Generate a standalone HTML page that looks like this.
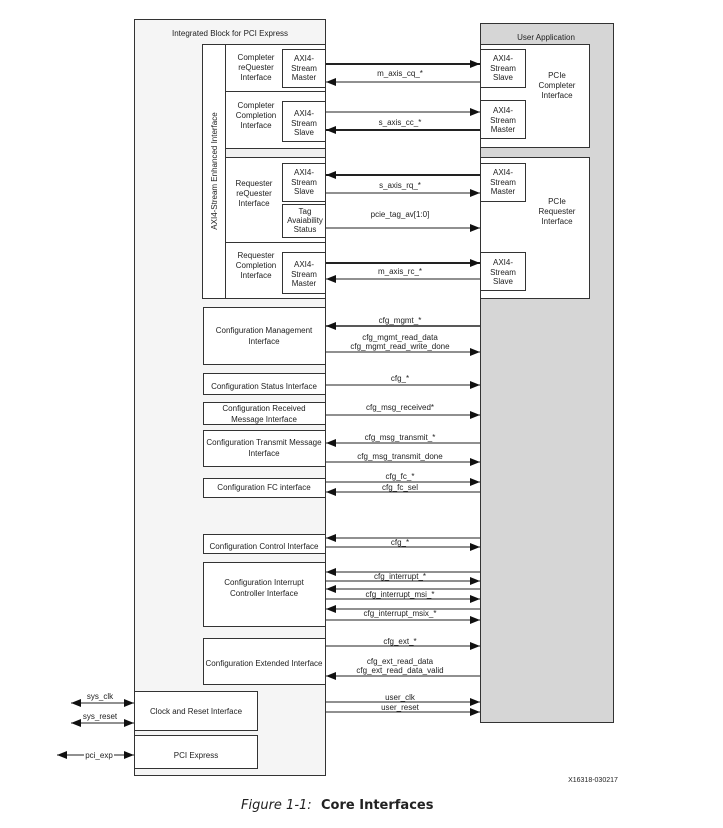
<!DOCTYPE html>
<html><head><meta charset="utf-8"><style>
html,body{margin:0;padding:0;background:#fff;}
svg{display:block;}
text{font-family:"Liberation Sans",sans-serif;font-size:8px;fill:#222;}
</style></head><body>
<svg width="723" height="828" viewBox="0 0 723 828" xmlns="http://www.w3.org/2000/svg">
<defs>
<marker id="a" viewBox="0 0 10 8" refX="10" refY="4" markerWidth="10" markerHeight="8" markerUnits="userSpaceOnUse" orient="auto"><path d="M0,0L10,4L0,8z" fill="#111"/></marker>
<marker id="b" viewBox="0 0 10 8" refX="0" refY="4" markerWidth="10" markerHeight="8" markerUnits="userSpaceOnUse" orient="auto"><path d="M10,0L0,4L10,8z" fill="#111"/></marker>
</defs>
<g stroke="#333" stroke-width="1" fill="none">
<!-- left block -->
<rect x="134.5" y="19.5" width="191" height="756" fill="#f5f5f5"/>
<!-- right block -->
<rect x="480.5" y="23.5" width="133" height="699" fill="#d6d6d6"/>
<rect x="480.5" y="44.5" width="109" height="103" fill="#fff"/>
<rect x="480.5" y="157.5" width="109" height="141" fill="#fff"/>
<!-- AXI inner area -->
<rect x="202.5" y="44.5" width="123" height="254" fill="#fff"/>
<line x1="225.5" y1="44.5" x2="225.5" y2="298.5"/>
<line x1="225.5" y1="91.5" x2="325.5" y2="91.5"/>
<rect x="225.5" y="148.5" width="100" height="9" fill="#f0f0f0"/>
<line x1="225.5" y1="242.5" x2="325.5" y2="242.5"/>
<rect x="282.5" y="49.5" width="43" height="38" fill="#fff"/>
<rect x="282.5" y="101.5" width="43" height="40" fill="#fff"/>
<rect x="282.5" y="163.5" width="43" height="38" fill="#fff"/>
<rect x="282.5" y="204.5" width="43" height="33" fill="#fff"/>
<rect x="282.5" y="252.5" width="43" height="41" fill="#fff"/>
<!-- right AXI boxes -->
<rect x="480.5" y="49.5" width="45" height="38" fill="#fff"/>
<rect x="480.5" y="100.5" width="45" height="38" fill="#fff"/>
<rect x="480.5" y="163.5" width="45" height="38" fill="#fff"/>
<rect x="480.5" y="252.5" width="45" height="38" fill="#fff"/>
<!-- config boxes -->
<rect x="203.5" y="307.5" width="122" height="57" fill="#fff"/>
<rect x="203.5" y="373.5" width="122" height="21" fill="#fff"/>
<rect x="203.5" y="402.5" width="122" height="22" fill="#fff"/>
<rect x="203.5" y="430.5" width="122" height="36" fill="#fff"/>
<rect x="203.5" y="478.5" width="122" height="19" fill="#fff"/>
<rect x="203.5" y="534.5" width="122" height="19" fill="#fff"/>
<rect x="203.5" y="562.5" width="122" height="64" fill="#fff"/>
<rect x="203.5" y="638.5" width="122" height="46" fill="#fff"/>
<rect x="134.5" y="691.5" width="123" height="39" fill="#fff"/>
<rect x="134.5" y="735.5" width="123" height="33" fill="#fff"/>
</g>
<!-- arrows -->
<g stroke="#222" stroke-width="1" fill="none">
<line x1="326" y1="64" x2="480" y2="64" stroke-width="2" marker-end="url(#a)"/>
<line x1="480" y1="82" x2="326" y2="82" marker-end="url(#a)"/>
<line x1="326" y1="112" x2="480" y2="112" marker-end="url(#a)"/>
<line x1="480" y1="130" x2="326" y2="130" stroke-width="2" marker-end="url(#a)"/>
<line x1="480" y1="175" x2="326" y2="175" stroke-width="2" marker-end="url(#a)"/>
<line x1="326" y1="193" x2="480" y2="193" marker-end="url(#a)"/>
<line x1="326" y1="228" x2="480" y2="228" marker-end="url(#a)"/>
<line x1="326" y1="263" x2="480" y2="263" stroke-width="2" marker-end="url(#a)"/>
<line x1="480" y1="279" x2="326" y2="279" marker-end="url(#a)"/>
<line x1="480" y1="326" x2="326" y2="326" stroke-width="1.6" marker-end="url(#a)"/>
<line x1="326" y1="352" x2="480" y2="352" marker-end="url(#a)"/>
<line x1="326" y1="385" x2="480" y2="385" marker-end="url(#a)"/>
<line x1="326" y1="415" x2="480" y2="415" marker-end="url(#a)"/>
<line x1="480" y1="443" x2="326" y2="443" marker-end="url(#a)"/>
<line x1="326" y1="462" x2="480" y2="462" marker-end="url(#a)"/>
<line x1="326" y1="482" x2="480" y2="482" marker-end="url(#a)"/>
<line x1="480" y1="492" x2="326" y2="492" marker-end="url(#a)"/>
<line x1="480" y1="538" x2="326" y2="538" marker-end="url(#a)"/>
<line x1="326" y1="547" x2="480" y2="547" marker-end="url(#a)"/>
<line x1="480" y1="572" x2="326" y2="572" marker-end="url(#a)"/>
<line x1="326" y1="581" x2="480" y2="581" marker-end="url(#a)"/>
<line x1="480" y1="589" x2="326" y2="589" marker-end="url(#a)"/>
<line x1="326" y1="599" x2="480" y2="599" marker-end="url(#a)"/>
<line x1="480" y1="609" x2="326" y2="609" marker-end="url(#a)"/>
<line x1="326" y1="620" x2="480" y2="620" marker-end="url(#a)"/>
<line x1="326" y1="646" x2="480" y2="646" marker-end="url(#a)"/>
<line x1="480" y1="676" x2="326" y2="676" marker-end="url(#a)"/>
<line x1="326" y1="702" x2="480" y2="702" marker-end="url(#a)"/>
<line x1="326" y1="712" x2="480" y2="712" marker-end="url(#a)"/>
<line x1="71" y1="703" x2="134" y2="703" marker-start="url(#b)" marker-end="url(#a)"/>
<line x1="71" y1="723" x2="134" y2="723" marker-start="url(#b)" marker-end="url(#a)"/>
<line x1="57" y1="755" x2="84" y2="755" marker-start="url(#b)"/>
<line x1="114" y1="755" x2="134" y2="755" marker-end="url(#a)"/>
</g>
<!-- texts -->
<g text-anchor="middle">
<text x="230" y="36">Integrated Block for PCI Express</text>
<text x="546" y="40">User Application</text>
<text transform="translate(217,171) rotate(-90)">AXI4-Stream Enhanced Interface</text>
<text x="256" y="60">Completer</text><text x="256" y="70">reQuester</text><text x="256" y="80">Interface</text>
<text x="256" y="108">Completer</text><text x="256" y="118">Completion</text><text x="256" y="128">Interface</text>
<text x="254" y="186">Requester</text><text x="254" y="196">reQuester</text><text x="254" y="206">Interface</text>
<text x="256" y="258">Requester</text><text x="256" y="268">Completion</text><text x="256" y="278">Interface</text>
<text x="304" y="61">AXI4-</text><text x="304" y="71">Stream</text><text x="304" y="80">Master</text>
<text x="304" y="116">AXI4-</text><text x="304" y="126">Stream</text><text x="304" y="135">Slave</text>
<text x="304" y="175">AXI4-</text><text x="304" y="185">Stream</text><text x="304" y="194">Slave</text>
<text x="305" y="214">Tag</text><text x="305" y="223">Avaiability</text><text x="305" y="232">Status</text>
<text x="304" y="267">AXI4-</text><text x="304" y="277">Stream</text><text x="304" y="286">Master</text>
<text x="503" y="61">AXI4-</text><text x="503" y="71">Stream</text><text x="503" y="80">Slave</text>
<text x="503" y="113">AXI4-</text><text x="503" y="123">Stream</text><text x="503" y="132">Master</text>
<text x="503" y="175">AXI4-</text><text x="503" y="185">Stream</text><text x="503" y="194">Master</text>
<text x="503" y="265">AXI4-</text><text x="503" y="275">Stream</text><text x="503" y="284">Slave</text>
<text x="557" y="78">PCIe</text><text x="557" y="88">Completer</text><text x="557" y="98">Interface</text>
<text x="557" y="204">PCIe</text><text x="557" y="214">Requester</text><text x="557" y="224">Interface</text>
<text x="400" y="76">m_axis_cq_*</text>
<text x="400" y="125">s_axis_cc_*</text>
<text x="400" y="188">s_axis_rq_*</text>
<text x="400" y="217">pcie_tag_av[1:0]</text>
<text x="400" y="274">m_axis_rc_*</text>
<text x="264" y="333">Configuration Management</text><text x="264" y="344">Interface</text>
<text x="264" y="389">Configuration Status Interface</text>
<text x="264" y="411">Configuration Received</text><text x="264" y="422">Message Interface</text>
<text x="264" y="445">Configuration Transmit Message</text><text x="264" y="456">Interface</text>
<text x="264" y="490">Configuration FC interface</text>
<text x="264" y="549">Configuration Control Interface</text>
<text x="264" y="585">Configuration Interrupt</text><text x="264" y="596">Controller Interface</text>
<text x="264" y="666">Configuration Extended Interface</text>
<text x="196" y="714">Clock and Reset Interface</text>
<text x="196" y="758">PCI Express</text>
<text x="400" y="323">cfg_mgmt_*</text>
<text x="400" y="340">cfg_mgmt_read_data</text><text x="400" y="349">cfg_mgmt_read_write_done</text>
<text x="400" y="381">cfg_*</text>
<text x="400" y="410">cfg_msg_received*</text>
<text x="400" y="440">cfg_msg_transmit_*</text>
<text x="400" y="459">cfg_msg_transmit_done</text>
<text x="400" y="479">cfg_fc_*</text>
<text x="400" y="490">cfg_fc_sel</text>
<text x="400" y="545">cfg_*</text>
<text x="400" y="579">cfg_interrupt_*</text>
<text x="400" y="597">cfg_interrupt_msi_*</text>
<text x="400" y="616">cfg_interrupt_msix_*</text>
<text x="400" y="644">cfg_ext_*</text>
<text x="400" y="664">cfg_ext_read_data</text><text x="400" y="673">cfg_ext_read_data_valid</text>
<text x="400" y="700">user_clk</text>
<text x="400" y="710">user_reset</text>
<text x="100" y="699">sys_clk</text>
<text x="100" y="719">sys_reset</text>
<text x="99" y="758">pci_exp</text>
<text x="593" y="782" style="font-size:7px">X16318-030217</text>
</g>
<text x="241" y="809" style="font-size:13px;font-style:italic;font-family:'DejaVu Sans',sans-serif">Figure 1-1:</text>
<text x="321" y="809" style="font-size:13px;font-weight:bold;font-family:'DejaVu Sans',sans-serif">Core Interfaces</text>
</svg>
</body></html>
